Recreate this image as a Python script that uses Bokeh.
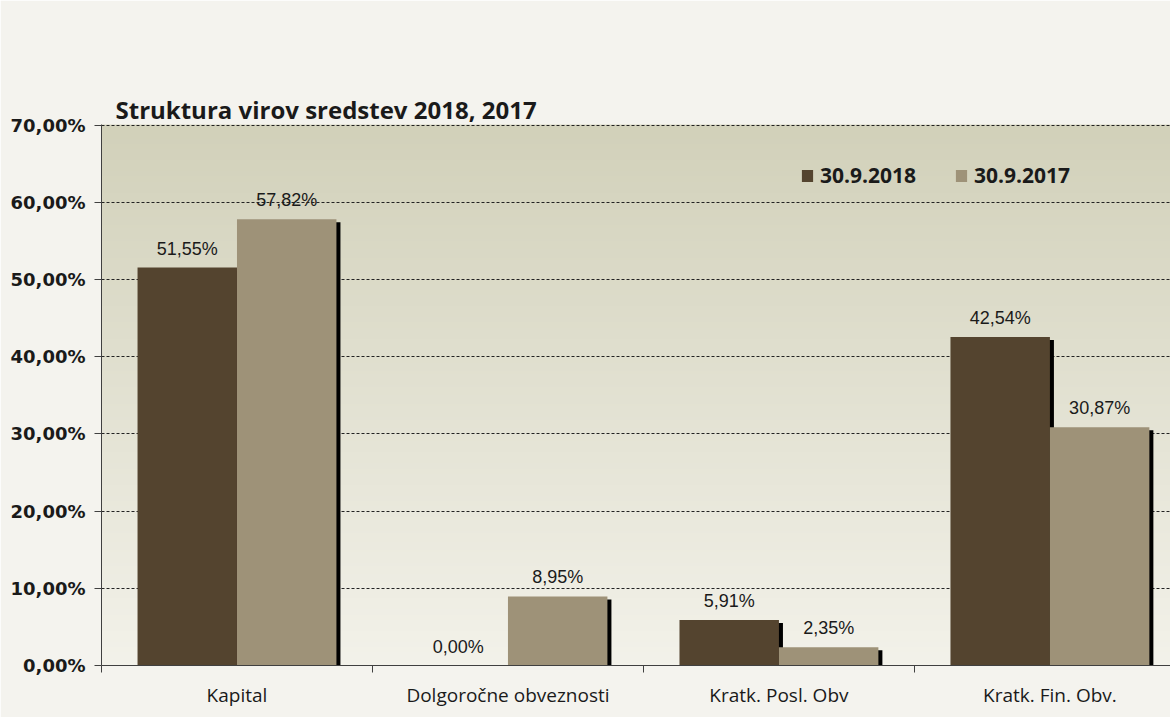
import numpy as np
from bokeh.plotting import figure
from bokeh.models import Range1d, FixedTicker, CustomJSTickFormatter
from bokeh.embed import file_html
from bokeh.resources import INLINE
from bokeh.core.properties import value

# ---- data ----
categories = ["Kapital", "Dolgoročne obveznosti", "Kratk. Posl. Obv", "Kratk. Fin. Obv."]
series_names = ["30.9.2018", "30.9.2017"]
values_2018 = [51.55, 0.00, 5.91, 42.54]
values_2017 = [57.82, 8.95, 2.35, 30.87]
y_ticks = [0, 10, 20, 30, 40, 50, 60, 70]
title_text = "Struktura virov sredstev 2018, 2017"

# ---- style ----
C_DARK = "#54442F"
C_LIGHT = "#9E9278"
PAGE_BG = "#F4F3EE"
W, H = 1170, 717
X_END = 3.945          # visible category span (chart is cropped at the right)
Y_END = 70.08
BW = 0.367             # bar width in category units
SH_DX = 0.0148         # shadow offset (~4px)
SH_DY = 0.39           # shadow drop (~3px)

p = figure(width=W, height=H, output_backend="svg", toolbar_location=None,
           x_range=Range1d(0, X_END), y_range=Range1d(0, Y_END),
           min_border_left=101, min_border_right=0, min_border_top=124,
           min_border_bottom=52)
p.border_fill_color = PAGE_BG
p.background_fill_color = "#E2E1D1"
p.outline_line_color = None

# title
p.title.text = title_text
p.title.align = "left"
p.title.offset = 14
p.title.standoff = -3
p.title.text_font = "Open Sans"
p.title.text_font_style = "bold"
p.title.text_font_size = "24px"
p.title.text_color = "#1a1a1a"

# gradient plot area background
n = 200
t = np.linspace(0, 1, n)[:, None]
top_c = np.array([0xD2, 0xD1, 0xBA], dtype=float)
bot_c = np.array([0xF3, 0xF2, 0xEA], dtype=float)
rgb = (bot_c + (top_c - bot_c) * t).astype(np.uint8)
img = np.empty((n, 1), dtype=np.uint32)
view = img.view(dtype=np.uint8).reshape((n, 1, 4))
view[:, :, 0] = rgb[:, 0:1]
view[:, :, 1] = rgb[:, 1:2]
view[:, :, 2] = rgb[:, 2:3]
view[:, :, 3] = 255
p.image_rgba(image=[img], x=0, y=0, dw=X_END, dh=Y_END, level="image")

centers = np.arange(len(categories)) + 0.5
x18 = centers - BW / 2
x17 = centers + BW / 2
v18 = np.array(values_2018)
v17 = np.array(values_2017)

# shadows
p.vbar(x=x18 + SH_DX, top=np.maximum(v18 - SH_DY, 0), bottom=0, width=BW,
       fill_color="black", line_color=None)
p.vbar(x=x17 + SH_DX, top=np.maximum(v17 - SH_DY, 0), bottom=0, width=BW,
       fill_color="black", line_color=None)

# bars
p.vbar(x=x18, top=v18, bottom=0, width=BW, fill_color=C_DARK, line_color=None,
       legend_label=series_names[0])
p.vbar(x=x17, top=v17, bottom=0, width=BW, fill_color=C_LIGHT, line_color=None,
       legend_label=series_names[1])

def fmt(v):
    return f"{v:.2f}".replace(".", ",") + "%"

lx = list(x18) + list(x17)
ly = list(v18) + list(v17)
lt = [fmt(v) for v in ly]
p.text(x=lx, y=ly, text=lt, text_align="center", text_baseline="alphabetic",
       y_offset=-19, text_font=value("Liberation Sans"), text_font_size="18px",
       text_color="#1a1a1a")

# axes
p.xaxis.ticker = FixedTicker(ticks=list(centers), minor_ticks=[0, 1, 2, 3, 4])
p.xaxis.formatter = CustomJSTickFormatter(args=dict(cats=categories),
                                          code="return cats[Math.round(tick - 0.5)];")
p.xaxis.major_tick_line_color = None
p.xaxis.major_tick_out = 7
p.xaxis.major_tick_in = 0
p.xaxis.minor_tick_out = 7
p.xaxis.minor_tick_in = 0
p.xaxis.minor_tick_line_color = "#404040"
p.xaxis.axis_line_color = "#404040"
p.xaxis.major_label_text_font = "Open Sans"
p.xaxis.major_label_text_font_size = "19px"
p.xaxis.major_label_text_color = "#1a1a1a"
p.xaxis.major_label_standoff = 9

p.yaxis.ticker = FixedTicker(ticks=y_ticks, minor_ticks=[])
p.yaxis.formatter = CustomJSTickFormatter(
    code="return tick.toFixed(2).replace('.', ',') + '%';")
p.yaxis.major_tick_out = 7
p.yaxis.major_tick_in = 0
p.yaxis.major_tick_line_color = "#404040"
p.yaxis.axis_line_color = "#404040"
p.yaxis.major_label_text_font = "DejaVu Sans"
p.yaxis.major_label_text_font_style = "bold"
p.yaxis.major_label_text_font_size = "18px"
p.yaxis.major_label_text_color = "#1a1a1a"
p.yaxis.major_label_standoff = 9

p.xgrid.visible = False
p.ygrid.ticker = FixedTicker(ticks=y_ticks, minor_ticks=[])
p.ygrid.grid_line_color = "#222222"
p.ygrid.grid_line_dash = "3 2"
p.ygrid.grid_line_width = 1

# legend
lg = p.legend[0]
lg.location = (699, 476)
lg.orientation = "horizontal"
lg.background_fill_alpha = 0
lg.border_line_color = None
lg.label_text_font = "Open Sans"
lg.label_text_font_style = "bold"
lg.label_text_font_size = "21px"
lg.label_text_color = "#1a1a1a"
lg.glyph_width = 14
lg.glyph_height = 15
lg.label_standoff = 6
lg.spacing = 38
lg.padding = 0
lg.margin = 0

open("out.html", "w").write(file_html(p, INLINE))
